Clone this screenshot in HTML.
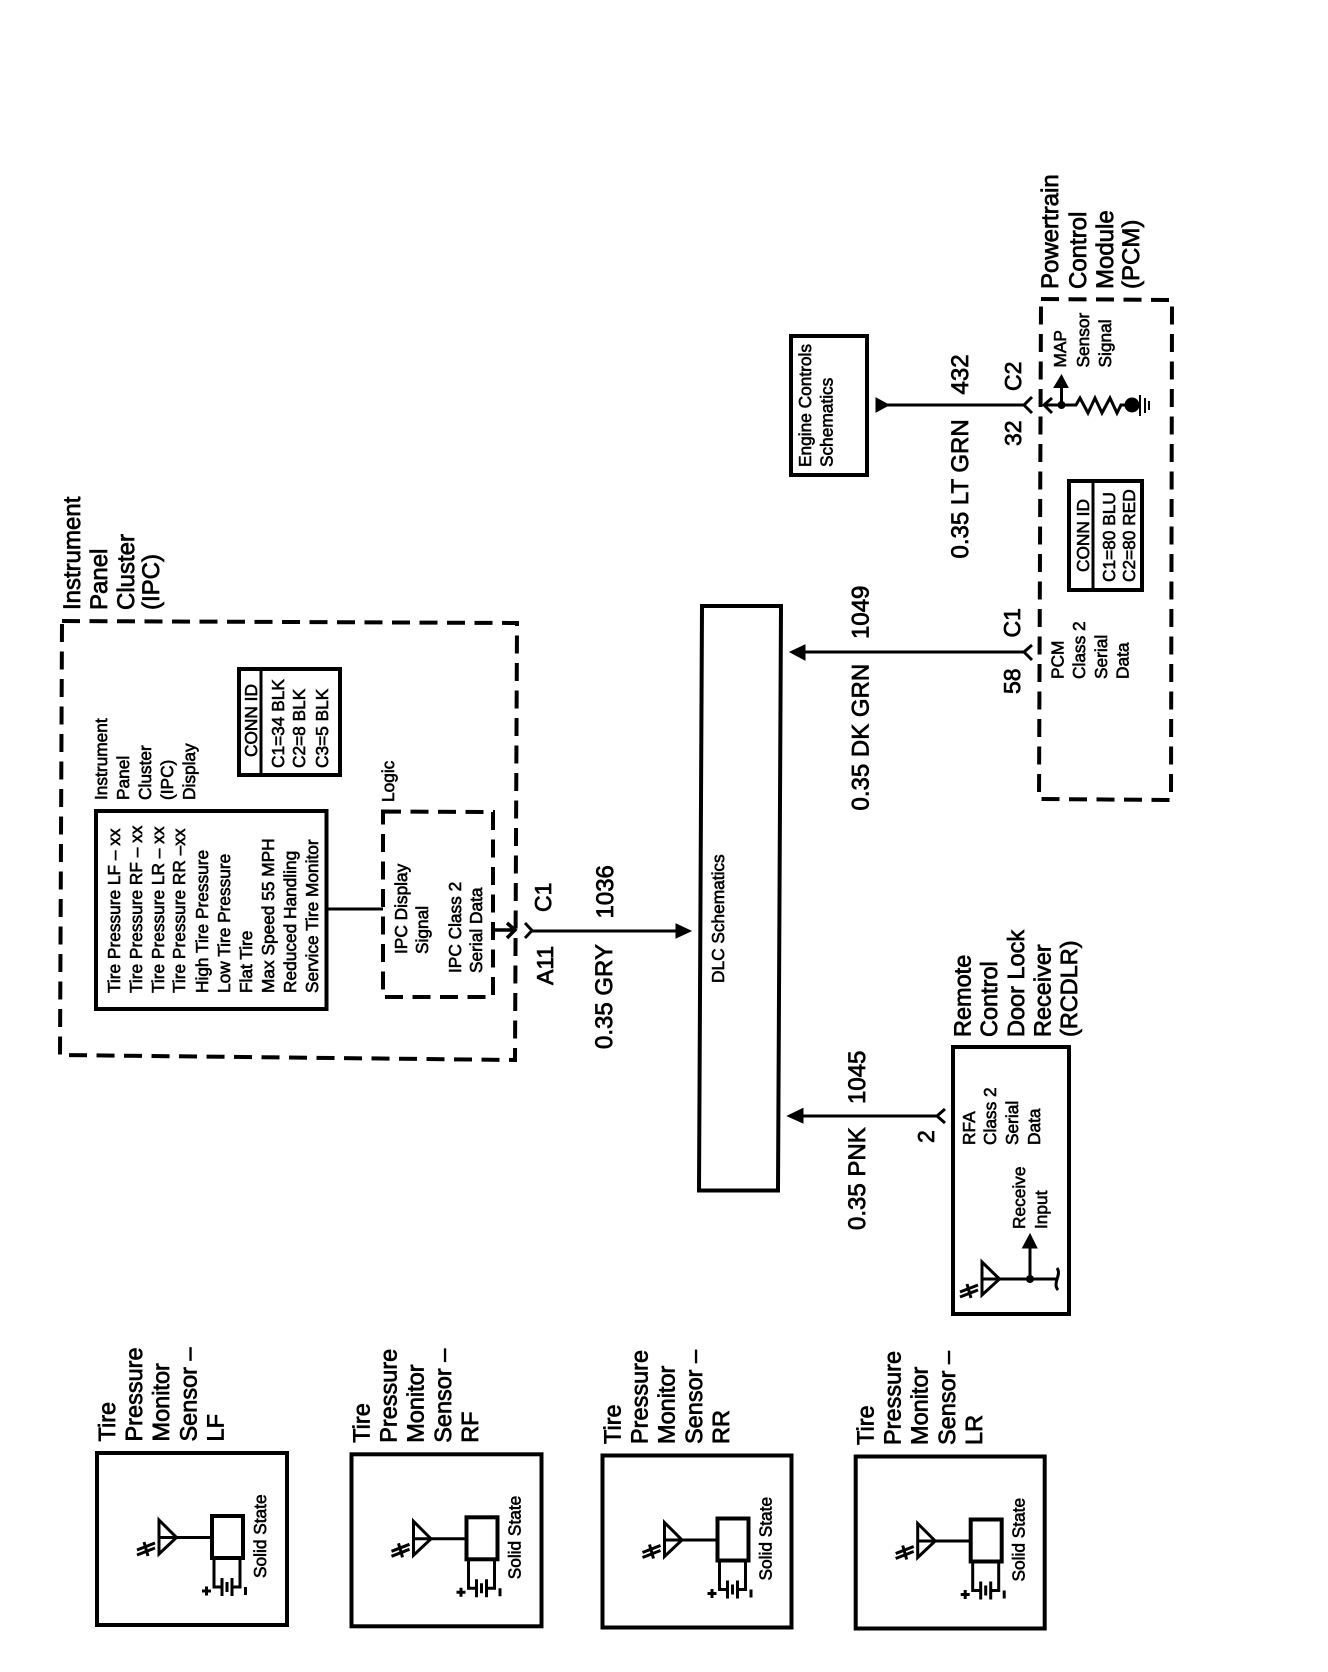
<!DOCTYPE html>
<html lang="en">
<head>
<meta charset="utf-8">
<title>Tire Pressure Monitor Schematic</title>
<style>
html,body{margin:0;padding:0;background:#fff}
svg{display:block}
text{font-family:"Liberation Sans",sans-serif;fill:#000;stroke:#000;stroke-width:.75;text-rendering:geometricPrecision}
.h{font-size:24px}
.h23{font-size:23.5px}
.n{font-size:23px}
.s{font-size:17.3px;stroke-width:.6}
.l{fill:none;stroke:#000;stroke-width:3}
.b{fill:none;stroke:#000;stroke-width:4}
.d{fill:none;stroke:#000;stroke-width:4;stroke-dasharray:18 9.5}
.f{fill:#000;stroke:#000;stroke-width:1}
.c{fill:none;stroke:#000;stroke-width:3}
</style>
</head>
<body>
<svg xmlns="http://www.w3.org/2000/svg" width="1328" height="1672" viewBox="0 0 1328 1672">
<rect width="1328" height="1672" fill="#fff"/>

<!-- IPC -->
<path class="d" d="M62 621L517 623L515 1060L60 1055Z"/>
<text class="h" transform="translate(80 610) rotate(-90)">Instrument</text>
<text class="h" transform="translate(107 610) rotate(-90)">Panel</text>
<text class="h" transform="translate(134 610) rotate(-90)">Cluster</text>
<text class="h" transform="translate(159 610) rotate(-90)">(IPC)</text>

<text class="s" transform="translate(107 800) rotate(-90)">Instrument</text>
<text class="s" transform="translate(129 800) rotate(-90)">Panel</text>
<text class="s" transform="translate(151 800) rotate(-90)">Cluster</text>
<text class="s" transform="translate(173 800) rotate(-90)">(IPC)</text>
<text class="s" transform="translate(195 800) rotate(-90)">Display</text>

<rect class="b" x="96" y="811" width="230.5" height="198"/>
<text class="s" transform="translate(120 993) rotate(-90)">Tire Pressure LF – xx</text>
<text class="s" transform="translate(142 993) rotate(-90)">Tire Pressure RF – xx</text>
<text class="s" transform="translate(164 993) rotate(-90)">Tire Pressure LR – xx</text>
<text class="s" transform="translate(185 993) rotate(-90)">Tire Pressure RR –xx</text>
<text class="s" transform="translate(208 993) rotate(-90)">High Tire Pressure</text>
<text class="s" transform="translate(230 993) rotate(-90)">Low Tire Pressure</text>
<text class="s" transform="translate(252 993) rotate(-90)">Flat Tire</text>
<text class="s" transform="translate(274 993) rotate(-90)">Max Speed 55 MPH</text>
<text class="s" transform="translate(296 993) rotate(-90)">Reduced Handling</text>
<text class="s" transform="translate(318 993) rotate(-90)">Service Tire Monitor</text>

<rect class="b" x="239" y="669" width="101" height="106"/>
<line class="l" x1="261" y1="669" x2="261" y2="775"/>
<text class="s" transform="translate(257 757) rotate(-90)">CONN ID</text>
<text class="s" transform="translate(284 768) rotate(-90)">C1=34 BLK</text>
<text class="s" transform="translate(305 768) rotate(-90)">C2=8 BLK</text>
<text class="s" transform="translate(328 768) rotate(-90)">C3=5 BLK</text>

<text class="s" transform="translate(394 802) rotate(-90)">Logic</text>
<path class="d" d="M383 811.5L493 812L493 997L383 997Z"/>
<text class="s" transform="translate(407 954) rotate(-90)">IPC Display</text>
<text class="s" transform="translate(428 954) rotate(-90)">Signal</text>
<text class="s" transform="translate(461 973) rotate(-90)">IPC Class 2</text>
<text class="s" transform="translate(482 973) rotate(-90)">Serial Data</text>

<line class="l" x1="327" y1="909" x2="383" y2="909"/>
<path class="c" style="stroke-width:3.500" d="M492 930H514M507 923L515 930L507 938"/>
<path class="c" d="M525 923L532 930.500L525 938"/>
<line class="l" x1="532" y1="931" x2="678" y2="931"/>
<path class="f" d="M676 924L691 931L676 938Z"/>
<text class="n" transform="translate(551 912) rotate(-90)">C1</text>
<text class="n" transform="translate(553 985) rotate(-90)">A11</text>
<text class="h" transform="translate(613 918.500) rotate(-90)">1036</text>
<text class="h" transform="translate(612 1049) rotate(-90)">0.35 GRY</text>

<!-- DLC -->
<path class="b" d="M702 606L781 606L778 1190.500L699 1190.500Z"/>
<text class="s" transform="translate(724 983) rotate(-90)">DLC Schematics</text>

<!-- Engine Controls -->
<rect class="b" x="791" y="336" width="76" height="139"/>
<text class="s" transform="translate(811 467) rotate(-90)">Engine Controls</text>
<text class="s" transform="translate(832.500 467) rotate(-90)">Schematics</text>
<path class="f" d="M876 398L889 405L876 412Z"/>
<line class="l" x1="885" y1="405" x2="1024" y2="405"/>
<path class="c" d="M1032 397L1024 405L1032 413"/>
<text class="h" transform="translate(968 394.500) rotate(-90)">432</text>
<text class="h" transform="translate(968 558.500) rotate(-90)">0.35 LT GRN</text>
<text class="n" transform="translate(1021 391) rotate(-90)">C2</text>
<text class="n" transform="translate(1021 446) rotate(-90)">32</text>

<!-- PCM -->
<path class="d" d="M1041 299L1172 300L1171 800L1039 799Z"/>
<text class="h" transform="translate(1058 289) rotate(-90)">Powertrain</text>
<text class="h" transform="translate(1086 289) rotate(-90)">Control</text>
<text class="h" transform="translate(1113 289) rotate(-90)">Module</text>
<text class="h" transform="translate(1139 289) rotate(-90)">(PCM)</text>

<text class="s" transform="translate(1066 367.500) rotate(-90)">MAP</text>
<text class="s" transform="translate(1089 367.500) rotate(-90)">Sensor</text>
<text class="s" transform="translate(1111 367.500) rotate(-90)">Signal</text>

<path class="c" d="M1052 398L1044 405L1052 413"/>
<line class="l" x1="1044" y1="405" x2="1077" y2="405"/>
<line class="l" x1="1061.500" y1="405" x2="1061.500" y2="386"/>
<path class="f" d="M1054 387.500L1061.500 375L1068 387.500Z"/>
<circle cx="1061.500" cy="405" r="4" fill="#000"/>
<path class="c" d="M1076 405L1080 398L1088 413L1095 398L1102 413L1110 398L1117 413L1121 405H1126"/>
<circle cx="1132" cy="405" r="7.500" fill="#000"/>
<path class="l" style="stroke-width:2" d="M1140 395V416M1145 398V413M1149 401V410"/>

<rect class="b" x="1069" y="481" width="73" height="109"/>
<line class="l" x1="1093" y1="481" x2="1093" y2="590"/>
<text class="s" transform="translate(1089 572) rotate(-90)">CONN ID</text>
<text class="s" transform="translate(1115 582) rotate(-90)">C1=80 BLU</text>
<text class="s" transform="translate(1135 582) rotate(-90)">C2=80 RED</text>

<text class="s" transform="translate(1063.500 679) rotate(-90)">PCM</text>
<text class="s" transform="translate(1085 679) rotate(-90)">Class 2</text>
<text class="s" transform="translate(1107 679) rotate(-90)">Serial</text>
<text class="s" transform="translate(1128.500 679) rotate(-90)">Data</text>

<line class="l" x1="802" y1="652" x2="1024" y2="652"/>
<path class="f" d="M805 645L790 652L805 660Z"/>
<path class="c" d="M1032 645L1024 652L1032 660"/>
<text class="h" transform="translate(868.500 639) rotate(-90)">1049</text>
<text class="h" transform="translate(868.500 810.500) rotate(-90)">0.35 DK GRN</text>
<text class="n" transform="translate(1020 637.500) rotate(-90)">C1</text>
<text class="n" transform="translate(1020 694) rotate(-90)">58</text>

<!-- RCDLR -->
<rect class="b" x="953" y="1047" width="116" height="267"/>
<text class="h23" transform="translate(970.500 1037) rotate(-90)">Remote</text>
<text class="h23" transform="translate(997 1037) rotate(-90)">Control</text>
<text class="h23" transform="translate(1024 1037) rotate(-90)">Door Lock</text>
<text class="h23" transform="translate(1050.500 1037) rotate(-90)">Receiver</text>
<text class="h23" transform="translate(1077 1037) rotate(-90)">(RCDLR)</text>

<text class="s" transform="translate(975 1145) rotate(-90)">RFA</text>
<text class="s" transform="translate(996 1145) rotate(-90)">Class 2</text>
<text class="s" transform="translate(1018 1145) rotate(-90)">Serial</text>
<text class="s" transform="translate(1040 1145) rotate(-90)">Data</text>
<text class="s" transform="translate(1025 1229) rotate(-90)">Receive</text>
<text class="s" transform="translate(1047 1229) rotate(-90)">Input</text>

<path class="f" d="M1022.500 1248L1030 1234L1037 1248Z"/>
<line class="l" x1="1030" y1="1246" x2="1030" y2="1279"/>
<path class="c" d="M982 1262L999.500 1279L982 1295Z"/>
<line class="l" x1="982" y1="1279" x2="1056" y2="1279"/>
<circle cx="1030" cy="1279" r="4" fill="#000"/>
<path class="c" d="M1057 1268C1062 1275 1052 1283 1058 1290"/>
<path class="c" d="M960 1292L978 1285M960 1297L978 1290M967 1284L971 1298"/>

<line class="l" x1="800" y1="1116" x2="937" y2="1116"/>
<path class="f" d="M803 1108.500L787.500 1116L803 1123Z"/>
<path class="c" d="M945 1109L937 1116L945 1123"/>
<text class="h" transform="translate(865 1104) rotate(-90)">1045</text>
<text class="h" transform="translate(865 1230) rotate(-90)">0.35 PNK</text>
<text class="n" transform="translate(934 1143) rotate(-90)">2</text>

<!-- Sensor LF -->
<g>
<rect class="b" x="97" y="1453" width="190" height="172"/>
<text class="h23" transform="translate(115 1441.500) rotate(-90)">Tire</text>
<text class="h23" transform="translate(142 1441.500) rotate(-90)">Pressure</text>
<text class="h23" transform="translate(169 1441.500) rotate(-90)">Monitor</text>
<text class="h23" transform="translate(196.500 1441.500) rotate(-90)">Sensor –</text>
<text class="h23" transform="translate(223.500 1441.500) rotate(-90)">LF</text>
<rect class="b" x="212" y="1516" width="31" height="42"/>
<path class="c" d="M159 1520L176.500 1537.500L159 1554Z"/>
<line class="l" x1="159" y1="1537.500" x2="212" y2="1537.500"/>
<path class="c" d="M137 1550L155 1543M137 1555L155 1548M144 1542L148 1556"/>
<path class="c" d="M214 1558V1587H222M240 1558V1587H232"/>
<path class="l" d="M222 1578V1596M227 1582V1592M232 1578V1596"/>
<path class="c" d="M202 1591H211M206.500 1586.500V1595.500M245.500 1587V1595"/>
<text class="s" transform="translate(266 1578) rotate(-90)">Solid State</text>
</g>

<!-- Sensor RF -->
<g transform="translate(254.500 1.300)">
<rect class="b" x="97" y="1453" width="190" height="172"/>
<text class="h23" transform="translate(115 1441.500) rotate(-90)">Tire</text>
<text class="h23" transform="translate(142 1441.500) rotate(-90)">Pressure</text>
<text class="h23" transform="translate(169 1441.500) rotate(-90)">Monitor</text>
<text class="h23" transform="translate(196.500 1441.500) rotate(-90)">Sensor –</text>
<text class="h23" transform="translate(223.500 1441.500) rotate(-90)">RF</text>
<rect class="b" x="212" y="1516" width="31" height="42"/>
<path class="c" d="M159 1520L176.500 1537.500L159 1554Z"/>
<line class="l" x1="159" y1="1537.500" x2="212" y2="1537.500"/>
<path class="c" d="M137 1550L155 1543M137 1555L155 1548M144 1542L148 1556"/>
<path class="c" d="M214 1558V1587H222M240 1558V1587H232"/>
<path class="l" d="M222 1578V1596M227 1582V1592M232 1578V1596"/>
<path class="c" d="M202 1591H211M206.500 1586.500V1595.500M245.500 1587V1595"/>
<text class="s" transform="translate(266 1578) rotate(-90)">Solid State</text>
</g>

<!-- Sensor RR -->
<g transform="translate(505.500 2.500)">
<rect class="b" x="97" y="1453" width="189" height="172"/>
<text class="h23" transform="translate(115 1441.500) rotate(-90)">Tire</text>
<text class="h23" transform="translate(142 1441.500) rotate(-90)">Pressure</text>
<text class="h23" transform="translate(169 1441.500) rotate(-90)">Monitor</text>
<text class="h23" transform="translate(196.500 1441.500) rotate(-90)">Sensor –</text>
<text class="h23" transform="translate(223.500 1441.500) rotate(-90)">RR</text>
<rect class="b" x="212" y="1516" width="31" height="42"/>
<path class="c" d="M159 1520L176.500 1537.500L159 1554Z"/>
<line class="l" x1="159" y1="1537.500" x2="212" y2="1537.500"/>
<path class="c" d="M137 1550L155 1543M137 1555L155 1548M144 1542L148 1556"/>
<path class="c" d="M214 1558V1587H222M240 1558V1587H232"/>
<path class="l" d="M222 1578V1596M227 1582V1592M232 1578V1596"/>
<path class="c" d="M202 1591H211M206.500 1586.500V1595.500M245.500 1587V1595"/>
<text class="s" transform="translate(266 1578) rotate(-90)">Solid State</text>
</g>

<!-- Sensor LR -->
<g transform="translate(758.700 3.500)">
<rect class="b" x="97" y="1453" width="189" height="172"/>
<text class="h23" transform="translate(115 1441.500) rotate(-90)">Tire</text>
<text class="h23" transform="translate(142 1441.500) rotate(-90)">Pressure</text>
<text class="h23" transform="translate(169 1441.500) rotate(-90)">Monitor</text>
<text class="h23" transform="translate(196.500 1441.500) rotate(-90)">Sensor –</text>
<text class="h23" transform="translate(223.500 1441.500) rotate(-90)">LR</text>
<rect class="b" x="212" y="1516" width="31" height="42"/>
<path class="c" d="M159 1520L176.500 1537.500L159 1554Z"/>
<line class="l" x1="159" y1="1537.500" x2="212" y2="1537.500"/>
<path class="c" d="M137 1550L155 1543M137 1555L155 1548M144 1542L148 1556"/>
<path class="c" d="M214 1558V1587H222M240 1558V1587H232"/>
<path class="l" d="M222 1578V1596M227 1582V1592M232 1578V1596"/>
<path class="c" d="M202 1591H211M206.500 1586.500V1595.500M245.500 1587V1595"/>
<text class="s" transform="translate(266 1578) rotate(-90)">Solid State</text>
</g>
</svg>
</body>
</html>
